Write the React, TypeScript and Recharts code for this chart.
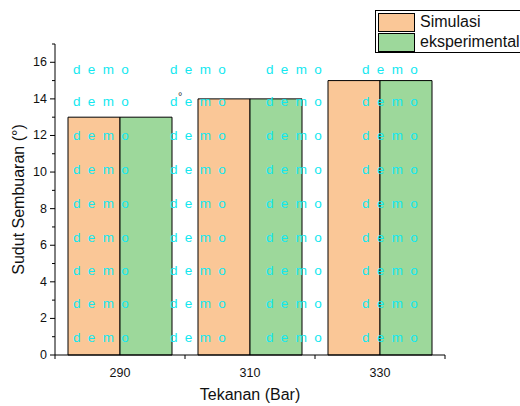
import React from 'react';
import { BarChart, Bar, XAxis, YAxis } from 'recharts';

const tekanan = ['290', '310', '330'];
const simulasi = [13, 14, 15];
const eksperimental = [13, 14, 15];
const yTicks = [0, 1, 2, 3, 4, 5, 6, 7, 8, 9, 10, 11, 12, 13, 14, 15, 16, 17];

const data = tekanan.map((t, i) => ({ tekanan: t, Simulasi: simulasi[i], eksperimental: eksperimental[i] }));

const W = 520;
const H = 406;
const M = { top: 44, right: 75, left: 15, bottom: 0 };
const Y_W = 40;
const X_H = 51;
const PLOT_W = W - M.left - Y_W - M.right;
const BAND = PLOT_W / tekanan.length;
const FONT = 'Arial, "Liberation Sans", sans-serif';
const ORANGE = '#fac797';
const GREEN = '#9dd89b';

const legendItems = [
  { name: 'Simulasi', color: ORANGE },
  { name: 'eksperimental', color: GREEN },
];

const wmCols = [73, 170, 266, 362];
const wmRows = [74, 106, 140, 174, 208, 242, 275, 308, 342];

const YTick = (props: any) => {
  const { x, y, payload } = props;
  const major = payload.value % 2 === 0;
  return (
    <g>
      <line x1={x - (major ? 5 : 3)} x2={x} y1={y} y2={y} stroke="#000" />
      {major && (
        <text x={x - 8} y={y} dy={4} textAnchor="end" fontSize={12.5} fontFamily={FONT} fill="#111">
          {payload.value}
        </text>
      )}
    </g>
  );
};

const XTick = (props: any) => {
  const { x, y, payload, index } = props;
  const last = index === tekanan.length - 1;
  return (
    <g>
      <line x1={x - BAND / 2} x2={x - BAND / 2} y1={y} y2={y + 4} stroke="#000" />
      {last && <line x1={x + BAND / 2} x2={x + BAND / 2} y1={y} y2={y + 4} stroke="#000" />}
      <text x={x} y={y + 22} textAnchor="middle" fontSize={12.5} fontFamily={FONT} fill="#111">
        {payload.value}
      </text>
    </g>
  );
};

const YLabel = ({ viewBox }: any) => {
  const cx = viewBox.x + 3;
  const cy = viewBox.y + viewBox.height / 2;
  return (
    <text x={cx} y={cy} transform={`rotate(-90, ${cx}, ${cy})`} textAnchor="middle" dominantBaseline="central" fontSize={16} fontFamily={FONT} fill="#111">
      Sudut Sembuaran (°)
    </text>
  );
};

const XLabel = ({ viewBox }: any) => (
  <text x={viewBox.x + viewBox.width / 2} y={viewBox.y + 45} textAnchor="middle" fontSize={16} fontFamily={FONT} fill="#111">
    Tekanan (Bar)
  </text>
);

export default function App() {
  return (
    <div style={{ position: 'absolute', left: 0, top: 0, width: W, height: H, background: '#fff', overflow: 'hidden' }}>
      <BarChart width={W} height={H} data={data} margin={M} barCategoryGap="10%" barGap={0}>
        <XAxis
          dataKey="tekanan"
          height={X_H}
          stroke="#000"
          tickSize={0}
          tickMargin={0}
          tick={<XTick />}
          label={<XLabel />}
        />
        <YAxis
          width={Y_W}
          domain={[0, 17]}
          ticks={yTicks}
          interval={0}
          stroke="#000"
          tickSize={0}
          tickMargin={0}
          tickLine={false}
          tick={<YTick />}
          label={<YLabel />}
        />
        <Bar dataKey="Simulasi" fill={ORANGE} stroke="#000" strokeWidth={1} isAnimationActive={false} />
        <Bar dataKey="eksperimental" fill={GREEN} stroke="#000" strokeWidth={1} isAnimationActive={false} />
      </BarChart>
      <svg width={W} height={H} style={{ position: 'absolute', left: 0, top: 0, pointerEvents: 'none' }}>
        {wmRows.map((ry) =>
          wmCols.map((cx) => (
            <text key={`${cx}-${ry}`} x={cx} y={ry} fontSize={13.5} fontFamily={FONT} fill="#12e8f0" letterSpacing={1.8}>
              d e m o
            </text>
          ))
        )}
        <text x={178} y={100} fontSize={11} fontFamily={FONT} fill="#333">°</text>
      </svg>
      <div style={{ position: 'absolute', left: 375, top: 10, border: '1px solid #000', width: 150, height: 43, padding: '1px 0 0 2px', boxSizing: 'border-box', background: '#fff', fontFamily: FONT, fontSize: 16, color: '#111' }}>
        {legendItems.map((it) => (
          <div key={it.name} style={{ display: 'flex', alignItems: 'center', height: 20 }}>
            <div style={{ width: 35, height: 17, background: it.color, border: '1px solid #000', marginRight: 5 }} />
            <span style={{ lineHeight: '18px' }}>{it.name}</span>
          </div>
        ))}
      </div>
    </div>
  );
}
